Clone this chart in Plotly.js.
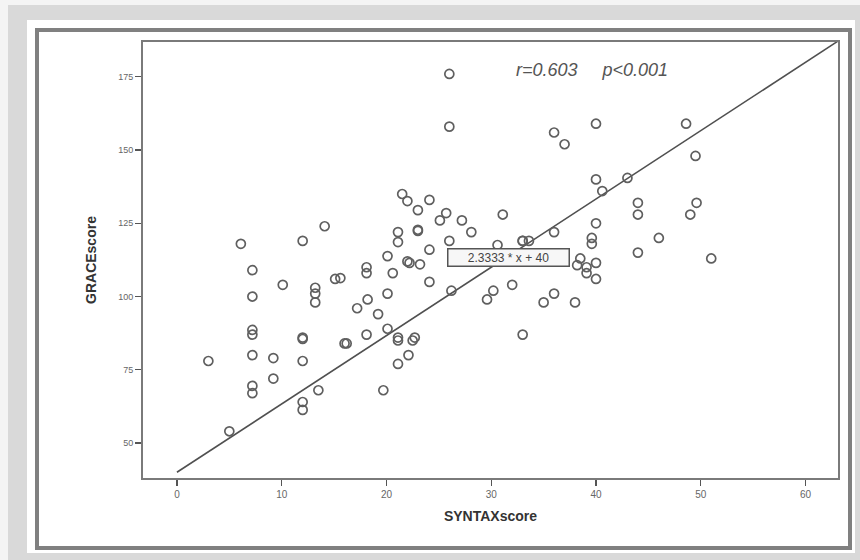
<!DOCTYPE html>
<html>
<head>
<meta charset="utf-8">
<script src="https://cdn.plot.ly/plotly-3.0.1.min.js"></script>
<style>html,body{margin:0;padding:0;background:#f4f4f4;}#chart{width:860px;height:560px;}</style>
</head>
<body>
<div id="chart"></div>
<script>
// SYNTAX score (x) vs GRACE score (y)
const syntaxScore = [
  5, 3, 26, 26, 36, 37, 40, 48.6, 49.5, 40, 40.6, 43, 44, 44, 49.6, 49, 46, 40, 39.6, 39.6,
  44, 51, 40, 40, 38, 35, 36, 33, 36, 38.5, 38.2, 39.1, 39.1,
  21.5, 22, 24.1, 23, 25.7, 31.1, 25.1, 27.2, 28.1, 21.1, 21.1, 23, 23, 26, 30.6, 20.1, 24.1,
  22, 22.2, 23.2, 18.1, 18.1, 20.6, 24.1, 15.6, 26.2, 32, 30.2, 29.6, 18.2, 20.1, 17.2, 19.2,
  20.1, 21.1, 22.7, 18.1, 33, 16, 33, 33.6,
  14.1, 6.1, 12, 7.2, 10.1, 13.2, 13.2, 13.2, 15.1, 7.2, 7.2, 7.2, 12, 12,
  16.2, 21.1, 22.5, 22.1, 21.1, 7.2, 9.2, 12, 9.2, 7.2, 7.2, 13.5, 19.7, 12, 12
];
const graceScore = [
  54, 78, 176, 158, 156, 152, 159, 159, 148, 140, 136, 140.5, 132, 128, 132, 128, 120, 125, 120, 118,
  115, 113, 111.5, 106, 98, 98, 101, 87, 122, 113, 110.7, 110, 108,
  135, 132.6, 133, 129.5, 128.5, 128, 126, 126, 122, 122, 118.6, 122.4, 122.8, 119, 117.6, 113.8, 116,
  112, 111.5, 111, 110, 108, 108, 105, 106.3, 102, 104, 102, 99, 99, 101, 96, 94,
  89, 86, 86, 87, 119, 84, 119, 119,
  124, 118, 119, 109, 104, 103, 101, 98, 106, 100, 88.6, 87, 86, 85.5,
  84, 85, 85, 80, 77, 80, 79, 78, 72, 69.5, 67, 68, 68, 64, 61.3
];
// fitted line end points
const fitX = [0, 63.1];
const fitY = [40, 187.2];
const xTicks = [0, 10, 20, 30, 40, 50, 60];
const yTicks = [50, 75, 100, 125, 150, 175];

const traces = [
  {x: fitX, y: fitY, type: 'scatter', mode: 'lines',
   line: {color: '#505050', width: 1.6}, hoverinfo: 'skip'},
  {x: syntaxScore, y: graceScore, type: 'scatter', mode: 'markers',
   marker: {symbol: 'circle-open', size: 9, color: '#5f5f5f', line: {width: 1.7}}}
];

const L = 143, W = 695, B = 478, H = 436;
const px = v => (v - L) / W;
const py = v => (B - v) / H;

const layout = {
  width: 860, height: 560,
  margin: {l: 143, r: 22, t: 42, b: 82},
  paper_bgcolor: '#f4f4f4',
  plot_bgcolor: '#f0f0f0',
  showlegend: false,
  font: {family: 'Liberation Sans, Arial, sans-serif', color: '#555'},
  xaxis: {
    range: [-3.24, 63.1], tickvals: xTicks, ticks: 'outside', ticklen: 6, tickwidth: 1.2,
    tickcolor: '#555', showgrid: false, zeroline: false, showline: true, mirror: true,
    linecolor: '#7a7a7a', linewidth: 2, tickfont: {size: 10, color: '#666'},
    title: {text: 'SYNTAXscore', font: {size: 14, color: '#333', weight: 'bold'}, standoff: 12}
  },
  yaxis: {
    range: [38.05, 186.9], tickvals: yTicks, ticks: 'outside', ticklen: 6, tickwidth: 1.2,
    tickcolor: '#555', showgrid: false, zeroline: false, showline: true, mirror: true,
    linecolor: '#7a7a7a', linewidth: 2, tickfont: {size: 9, color: '#666'},
    title: {text: 'GRACEscore', font: {size: 14, color: '#333', weight: 'bold'}, standoff: 18}
  },
  shapes: [
    {type: 'rect', xref: 'paper', yref: 'paper', layer: 'below',
     x0: px(8), x1: px(862), y0: py(562), y1: py(5),
     fillcolor: '#d9d9d9', line: {width: 0}},
    {type: 'rect', xref: 'paper', yref: 'paper', layer: 'below',
     x0: px(27), x1: px(855), y0: py(553), y1: py(20),
     fillcolor: '#ffffff', line: {width: 0}},
    {type: 'rect', xref: 'paper', yref: 'paper', layer: 'below',
     x0: px(37), x1: px(850), y0: py(548), y1: py(30),
     fillcolor: '#ffffff', line: {color: '#808080', width: 4}}
  ],
  annotations: [
    {x: 39.6, y: 177.3, xref: 'x', yref: 'y', text: '<i>r=0.603     p<0.001</i>', showarrow: false,
     font: {size: 18, color: '#555'}, xanchor: 'center'},
    {x: 31.6, y: 113.4, xref: 'x', yref: 'y', text: '2.3333 * x + 40', showarrow: false,
     font: {size: 12, color: '#444'}, bgcolor: '#f7f7f7', bordercolor: '#555', borderwidth: 1.5,
     borderpad: 1, width: 118}
  ]
};

Plotly.newPlot('chart', traces, layout, {displayModeBar: false, staticPlot: true});
</script>
</body>
</html>
